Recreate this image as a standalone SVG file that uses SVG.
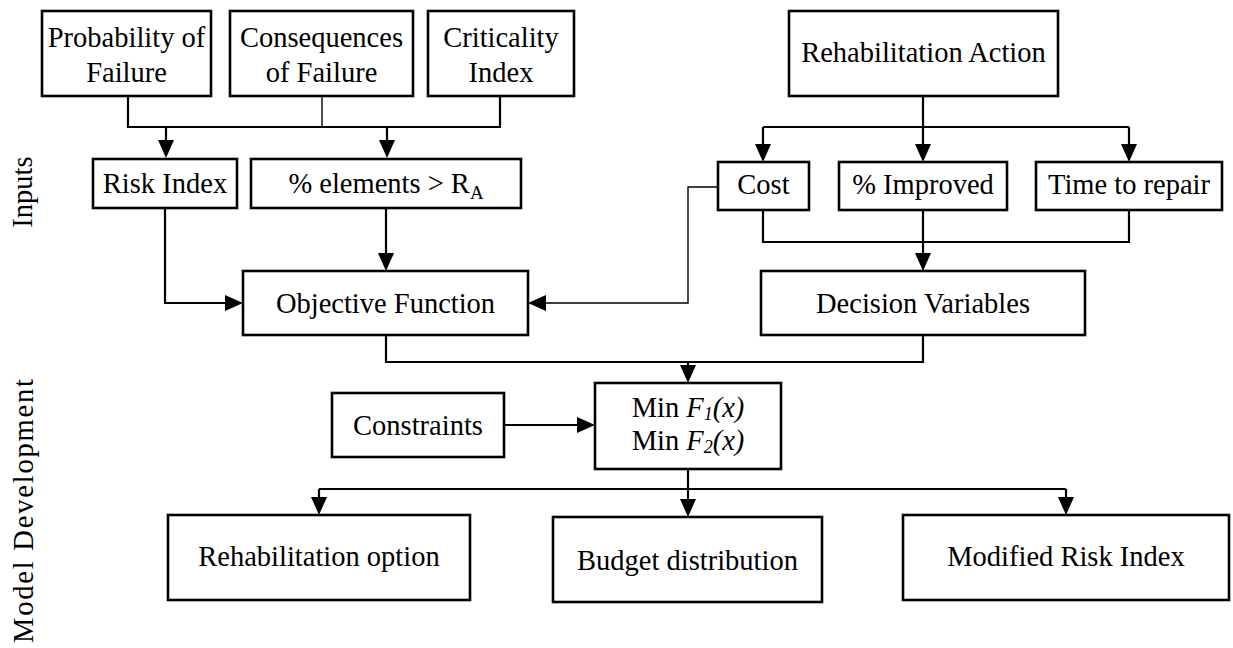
<svg xmlns="http://www.w3.org/2000/svg" width="1233" height="648" viewBox="0 0 1233 648">
  <style>
    .box { fill: #ffffff; stroke: #000000; stroke-width: 2.6; }
    .lbl { font-family: "Liberation Serif", "Times New Roman", serif; font-size: 28.5px; fill: #000000; text-anchor: middle; }
    .wire { fill: none; stroke: #000000; stroke-width: 2.2; }
    .thin { fill: none; stroke: #000000; stroke-width: 1.4; }
    .arr { marker-end: url(#head); }
  </style>
  <defs>
    <marker id="head" markerUnits="userSpaceOnUse" markerWidth="18" markerHeight="16" refX="8" refY="8" orient="auto">
      <path d="M0,0 L18,8 L0,16 z" fill="#000000"/>
    </marker>
  </defs>
  <rect width="1233" height="648" fill="#ffffff"/>

  <!-- section labels -->
  <text class="lbl" transform="translate(32,192) rotate(-90)">Inputs</text>
  <text class="lbl" transform="translate(33,511) rotate(-90)" textLength="264" lengthAdjust="spacing">Model Development</text>

  <!-- connectors -->
  <g id="connectors">
    <path class="wire" d="M128,96 V127 H500 V96"/>
    <path class="thin" d="M322,96 V127"/>
    <path class="wire arr" d="M166,127 V148"/>
    <path class="wire arr" d="M387,127 V148"/>

    <path class="wire arr" d="M165,208 V303 H233"/>
    <path class="wire arr" d="M386,208 V261"/>
    <path class="thin arr" d="M718,187 H688 V303 H538"/>

    <path class="wire" d="M923,96 V127"/>
    <path class="wire" d="M763,127 H1129"/>
    <path class="wire arr" d="M763,127 V152"/>
    <path class="wire arr" d="M923,127 V152"/>
    <path class="wire arr" d="M1129,127 V152"/>

    <path class="wire" d="M763,210 V242 H1129 V210"/>
    <path class="wire arr" d="M923,210 V261"/>

    <path class="wire" d="M386,335 V362 H923 V335"/>
    <path class="wire arr" d="M688,362 V373"/>

    <path class="wire arr" d="M504,425 H585"/>

    <path class="wire" d="M319,489 H1066"/>
    <path class="wire arr" d="M688,469 V507"/>
    <path class="wire arr" d="M319,489 V505"/>
    <path class="wire arr" d="M1066,489 V505"/>
  </g>

  <!-- input nodes -->
  <g id="probability">
    <rect class="box" x="42" y="11" width="169" height="85"/>
    <text class="lbl" x="126.5" y="47">Probability of</text>
    <text class="lbl" x="126.5" y="82">Failure</text>
  </g>
  <g id="consequences">
    <rect class="box" x="230" y="11" width="183" height="85"/>
    <text class="lbl" x="321.5" y="47">Consequences</text>
    <text class="lbl" x="321.5" y="82">of Failure</text>
  </g>
  <g id="criticality">
    <rect class="box" x="428" y="11" width="146" height="85"/>
    <text class="lbl" x="501" y="47">Criticality</text>
    <text class="lbl" x="501" y="82">Index</text>
  </g>
  <g id="rehab-action">
    <rect class="box" x="789" y="11" width="269" height="85"/>
    <text class="lbl" x="923.5" y="62">Rehabilitation Action</text>
  </g>

  <g id="risk-index">
    <rect class="box" x="93" y="159" width="144" height="49"/>
    <text class="lbl" x="165" y="193">Risk Index</text>
  </g>
  <g id="elements">
    <rect class="box" x="251" y="159" width="270" height="49"/>
    <text class="lbl" x="386" y="193">% elements &gt; R<tspan font-size="19" dy="6">A</tspan></text>
  </g>
  <g id="cost">
    <rect class="box" x="718" y="162" width="91" height="48"/>
    <text class="lbl" x="763.5" y="194">Cost</text>
  </g>
  <g id="improved">
    <rect class="box" x="839" y="162" width="168" height="48"/>
    <text class="lbl" x="923" y="194">% Improved</text>
  </g>
  <g id="time-to-repair">
    <rect class="box" x="1036" y="162" width="186" height="48"/>
    <text class="lbl" x="1129" y="194">Time to repair</text>
  </g>

  <g id="objective">
    <rect class="box" x="243" y="271" width="285" height="64"/>
    <text class="lbl" x="385.5" y="313">Objective Function</text>
  </g>
  <g id="decision">
    <rect class="box" x="761" y="271" width="324" height="64"/>
    <text class="lbl" x="923" y="313">Decision Variables</text>
  </g>

  <!-- model nodes -->
  <g id="constraints">
    <rect class="box" x="332" y="393" width="172" height="64"/>
    <text class="lbl" x="418" y="435">Constraints</text>
  </g>
  <g id="minimise">
    <rect class="box" x="595" y="383" width="186" height="86"/>
    <text class="lbl" x="688" y="417">Min <tspan font-style="italic">F</tspan><tspan font-style="italic" font-size="18" dy="3">1</tspan><tspan font-style="italic" dy="-3">(x)</tspan></text>
    <text class="lbl" x="688" y="450">Min <tspan font-style="italic">F</tspan><tspan font-style="italic" font-size="18" dy="3">2</tspan><tspan font-style="italic" dy="-3">(x)</tspan></text>
  </g>

  <g id="rehab-option">
    <rect class="box" x="168" y="515" width="302" height="85"/>
    <text class="lbl" x="319" y="566">Rehabilitation option</text>
  </g>
  <g id="budget">
    <rect class="box" x="553" y="517" width="269" height="85"/>
    <text class="lbl" x="687.5" y="570">Budget distribution</text>
  </g>
  <g id="modified-risk">
    <rect class="box" x="903" y="515" width="326" height="85"/>
    <text class="lbl" x="1066" y="566">Modified Risk Index</text>
  </g>
</svg>
